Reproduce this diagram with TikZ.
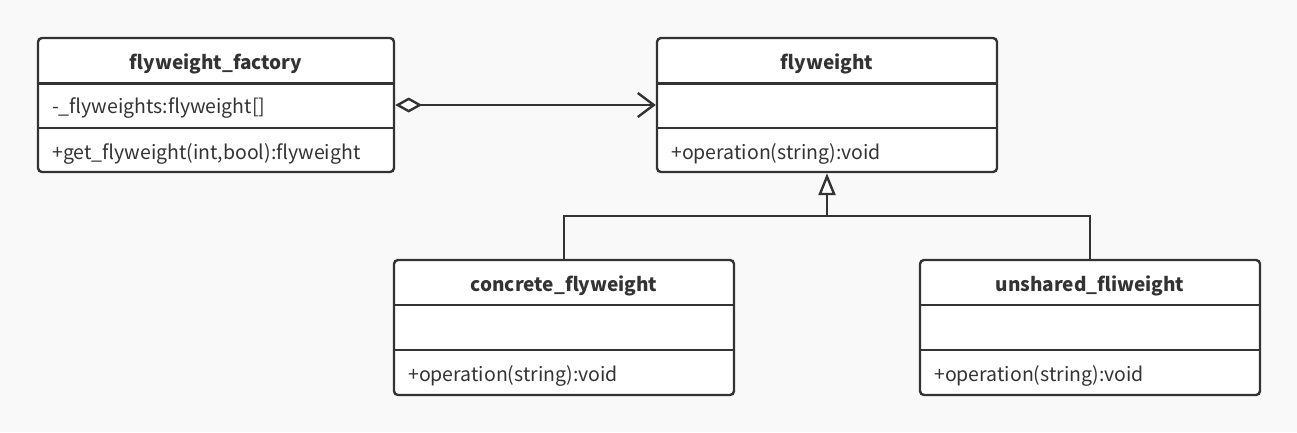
\documentclass[tikz,border=0pt]{standalone}
\usepackage{fontspec}
\setmainfont{Noto Sans CJK SC}
\usetikzlibrary{arrows.meta}
\definecolor{ln}{HTML}{333333}
\definecolor{bg}{HTML}{F9F9F9}
\tikzset{
  cls/.style={draw=ln, line width=2.4pt, fill=white, rounded corners=4pt, inner sep=0pt, rectangle},
  divl/.style={draw=ln, line width=2.4pt},
  ttl/.style={font=\bfseries\fontsize{19}{21}\selectfont, text=ln, inner sep=0pt, anchor=center},
  mem/.style={font=\fontsize{19.5}{21}\selectfont, text=ln, inner sep=0pt, anchor=west},
  conn/.style={draw=ln, line width=2.4pt},
}
\begin{document}
\begin{tikzpicture}[x=1pt,y=-1pt]
\useasboundingbox[fill=bg] (0,0) rectangle (1297,432);
% flyweight_factory
\node[cls, minimum width=356pt, minimum height=134pt] (fac) at (216,105) {};
\draw[divl] (38,83.5) -- (394,83.5);
\draw[divl] (38,128) -- (394,128);
\node[ttl] (facT) at (216,64) {flyweight\_factory};
\node[mem] (facA) at (52,108.5) {-\_flyweights:flyweight[]};
\node[mem] (facO) at (52,153.5) {+get\_flyweight(int,bool):flyweight};
% flyweight
\node[cls, minimum width=340pt, minimum height=134pt] (fw) at (827,105) {};
\draw[divl] (657,83.5) -- (997,83.5);
\draw[divl] (657,128) -- (997,128);
\node[ttl] (fwT) at (827,64) {flyweight};
\node[mem] (fwO) at (671,153.5) {+operation(string):void};
% concrete_flyweight
\node[cls, minimum width=340pt, minimum height=135pt] (cf) at (564,327.5) {};
\draw[divl] (394,305) -- (734,305);
\draw[divl] (394,350) -- (734,350);
\node[ttl] (cfT) at (564,286) {concrete\_flyweight};
\node[mem] (cfO) at (408,375.5) {+operation(string):void};
% unshared_fliweight
\node[cls, minimum width=340pt, minimum height=135pt] (uf) at (1090,327.5) {};
\draw[divl] (920,305) -- (1260,305);
\draw[divl] (920,350) -- (1260,350);
\node[ttl] (ufT) at (1090,286) {unshared\_fliweight};
\node[mem] (ufO) at (934,375.5) {+operation(string):void};
% aggregation
\draw[conn, {Diamond[fill=white, length=27pt, width=15pt, line width=2.4pt]}-{Straight Barb[length=16pt, width=24pt, line width=2.4pt]}] (fac.east) -- (fw.west);
% generalization
\coordinate (junc) at (827,216);
\draw[conn, -{Triangle[fill=white, length=22pt, width=17pt, line width=2.4pt]}] (cf.north) |- (junc) -- (fw.south);
\draw[conn] (uf.north) |- (junc);
\end{tikzpicture}
\end{document}
